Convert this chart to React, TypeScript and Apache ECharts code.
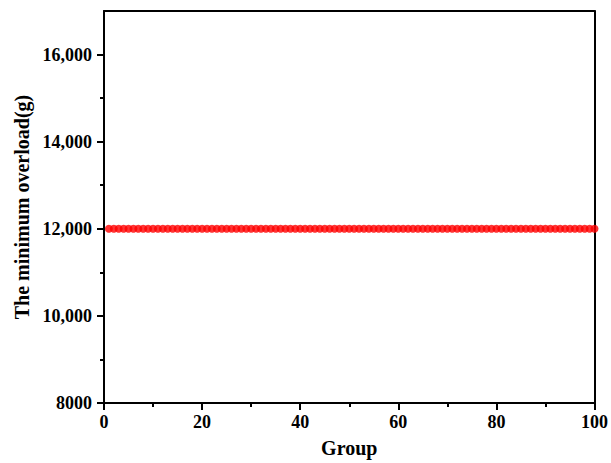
import React, { useEffect, useRef } from "react";
import * as echarts from "echarts";

const groups: number[] = Array.from({ length: 100 }, (_, i) => i + 1);
const overloadValues: number[] = groups.map(() => 12000);
const yMajorTicks: number[] = [8000, 10000, 12000, 14000, 16000];
const yMinorTicks: number[] = [9000, 11000, 13000, 15000];

const FONT = "'Liberation Serif', 'Times New Roman', serif";

export default function App() {
  const ref = useRef<HTMLDivElement>(null);
  useEffect(() => {
    if (!ref.current) return;
    const chart = echarts.init(ref.current, undefined, { renderer: "svg" });
    const axisLineStyle = { color: "#000", width: 2 };
    chart.setOption({
      animation: false,
      backgroundColor: "#fff",
      grid: { left: 104, right: 14, top: 11, bottom: 57 },
      xAxis: [
        {
          type: "value",
          min: 0,
          max: 100,
          interval: 20,
          name: "Group",
          nameLocation: "middle",
          nameGap: 35,
          nameTextStyle: { fontFamily: FONT, fontWeight: "bold", fontSize: 20, color: "#000" },
          axisLine: { show: true, lineStyle: axisLineStyle },
          axisTick: { show: true, inside: false, length: 7, lineStyle: axisLineStyle },
          minorTick: { show: true, splitNumber: 2, length: 4, lineStyle: axisLineStyle },
          splitLine: { show: false },
          axisLabel: { fontFamily: FONT, fontWeight: "bold", fontSize: 18, color: "#000", margin: 10 },
        },
        {
          type: "value",
          position: "top",
          min: 0,
          max: 100,
          axisLine: { show: true, onZero: false, lineStyle: axisLineStyle },
          axisTick: { show: false },
          axisLabel: { show: false },
          splitLine: { show: false },
        },
      ],
      yAxis: [
        {
          type: "value",
          min: 8000,
          max: 17000,
          interval: 1000,
          name: "The minimum overload(g)",
          nameLocation: "middle",
          nameGap: 68,
          nameTextStyle: { fontFamily: FONT, fontWeight: "bold", fontSize: 20, color: "#000" },
          axisLine: { show: true, lineStyle: axisLineStyle },
          axisTick: { show: true, inside: false, length: 7, lineStyle: axisLineStyle, customValues: yMajorTicks },
          splitLine: { show: false },
          axisLabel: {
            fontFamily: FONT,
            fontWeight: "bold",
            fontSize: 18,
            color: "#000",
            margin: 12,
            customValues: yMajorTicks,
            formatter: (v: number) => (v < 10000 ? String(v) : v.toLocaleString("en-US")),
          },
        },
        {
          type: "value",
          position: "left",
          min: 8000,
          max: 17000,
          interval: 1000,
          axisLine: { show: false },
          axisTick: { show: true, inside: false, length: 4, lineStyle: axisLineStyle, customValues: yMinorTicks },
          axisLabel: { show: false },
          splitLine: { show: false },
        },
        {
          type: "value",
          position: "right",
          min: 8000,
          max: 17000,
          axisLine: { show: true, onZero: false, lineStyle: axisLineStyle },
          axisTick: { show: false },
          axisLabel: { show: false },
          splitLine: { show: false },
        },
      ],
      series: [
        {
          type: "scatter",
          xAxisIndex: 0,
          yAxisIndex: 0,
          symbol: "circle",
          symbolSize: 8,
          itemStyle: { color: "#ff0000" },
          data: groups.map((g, i) => [g, overloadValues[i]]),
        },
      ],
    });
    return () => chart.dispose();
  }, []);
  return <div ref={ref} style={{ position: "fixed", left: 0, top: 0, width: 611, height: 463 }} />;
}
